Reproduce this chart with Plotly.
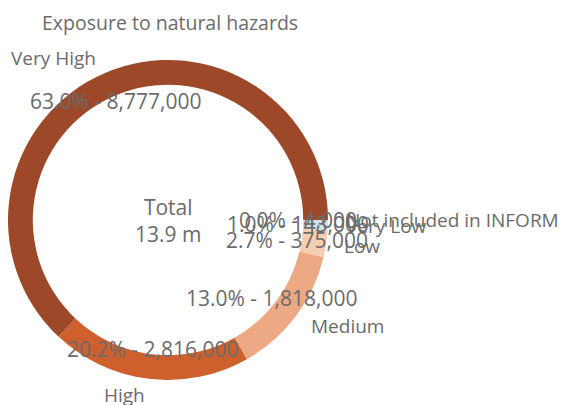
import math
import plotly.graph_objects as go

categories = ["Very High", "High", "Medium", "Low", "Very Low", "Not included in INFORM"]
values = [8777000, 2816000, 1818000, 375000, 143000, 4000]
colors = ["#9D4929", "#CD602D", "#EDA983", "#F5CDB3", "#CFE1EA", "#A9C4D4"]
title_text = "Exposure to natural hazards"

W, H = 570, 405
OFF = 8  # page body margin
cx, cy = 168 - OFF, 220 - OFF
R = cx  # ring reaches the left edge

total = sum(values)

# slices go counterclockwise from 3 o'clock; plotly draws clockwise, so reverse
fig = go.Figure(go.Pie(
    labels=categories[::-1],
    values=values[::-1],
    hole=0.845,
    sort=False,
    direction="clockwise",
    rotation=90,
    marker=dict(colors=colors[::-1], line=dict(width=0)),
    textinfo="none",
    hoverinfo="label+value+percent",
    showlegend=False,
    domain=dict(x=[(cx - R) / W, (cx + R) / W], y=[(H - cy - R) / H, (H - cy + R) / H]),
))

font = dict(family="Open Sans, Noto Sans, sans-serif", color="#6b6b6b")
annotations = []
cum = 0.0
for name, v in zip(categories, values):
    frac = v / total
    mid = (cum + frac / 2) * 2 * math.pi  # counterclockwise from 3 o'clock
    cum += frac
    c, s = math.cos(mid), math.sin(mid)
    px, py = cx + 130 * c, cy - 130 * s
    annotations.append(dict(
        x=px / W, y=1 - py / H, xref="paper", yref="paper",
        text=f"{frac*100:.1f}% - {v:,}", showarrow=False,
        xanchor="center", yanchor="middle", font=dict(size=21, **font)))
    nx, ny = cx + 176 * c, cy - 176 * s
    xa = "left" if c > 0.05 else ("right" if c < -0.05 else "center")
    annotations.append(dict(
        x=nx / W, y=1 - ny / H, xref="paper", yref="paper",
        text=name, showarrow=False,
        xanchor=xa, yanchor="middle", font=dict(size=19, **font)))

annotations.append(dict(
    x=cx / W, y=1 - cy / H, xref="paper", yref="paper",
    text=f"Total<br>{total/1e6:.1f} m", showarrow=False,
    xanchor="center", yanchor="middle", font=dict(size=21, **font)))

annotations.append(dict(
    x=(170 - OFF) / W, y=1 - (23 - OFF) / H, xref="paper", yref="paper",
    text=title_text, showarrow=False,
    xanchor="center", yanchor="middle", font=dict(size=19.5, **font)))

fig.update_layout(
    width=W, height=H,
    margin=dict(l=0, r=0, t=0, b=0),
    paper_bgcolor="white", plot_bgcolor="white",
    annotations=annotations,
)

fig.write_html("out.html")
